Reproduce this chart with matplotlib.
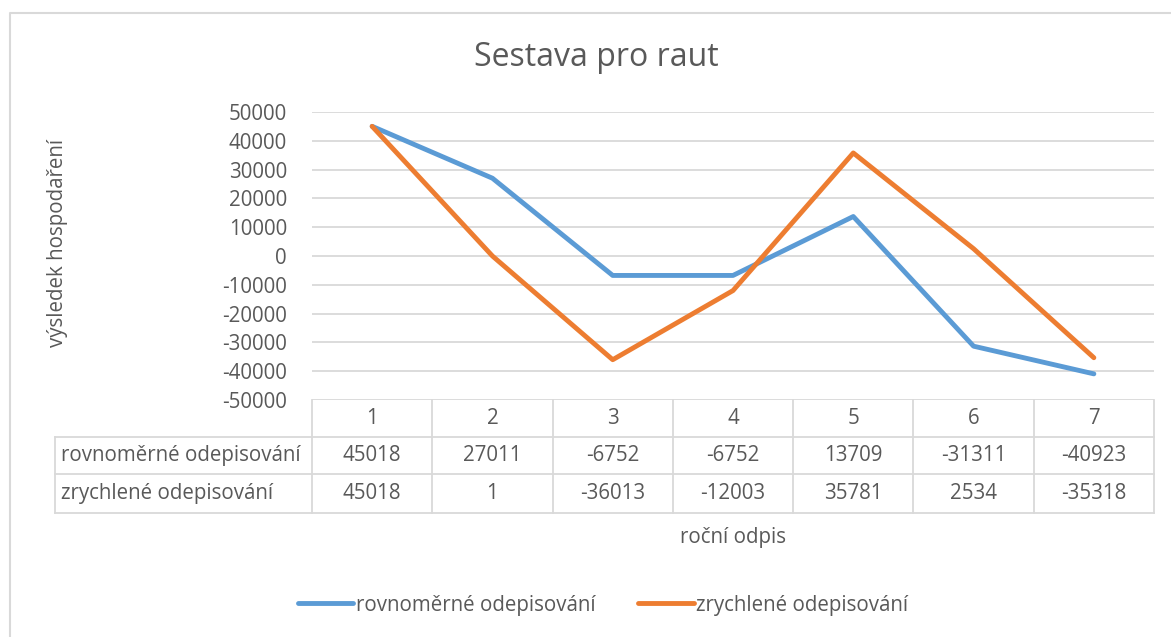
import matplotlib
matplotlib.use("Agg")
import matplotlib.pyplot as plt
import matplotlib.transforms as mtransforms
from matplotlib.lines import Line2D

# data
roky = ["1", "2", "3", "4", "5", "6", "7"]
rovnomerne = [45018, 27011, -6752, -6752, 13709, -31311, -40923]
zrychlene = [45018, 1, -36013, -12003, 35781, 2534, -35318]
nazvy = ["rovnoměrné odepisování", "zrychlené odepisování"]

modra = "#5B9BD5"
oranzova = "#ED7D31"
seda_text = "#595959"
seda_mrizka = "#D9D9D9"

plt.rcParams["font.family"] = ["Open Sans", "DejaVu Sans"]
plt.rcParams["axes.unicode_minus"] = False
fs = 14.8

W, H = 1171, 637
fig = plt.figure(figsize=(W / 100, H / 100), dpi=100)
fig.patch.set_facecolor("white")

# plot area in pixels: x 312..1154, y 112..400
ax = fig.add_axes([312 / W, 1 - 400 / H, (1154 - 312) / W, (400 - 112) / H])

x = list(range(len(roky)))
ax.plot(x, rovnomerne, color=modra, lw=3.5, solid_capstyle="round", label=nazvy[0], zorder=3)
ax.plot(x, zrychlene, color=oranzova, lw=3.5, solid_capstyle="round", label=nazvy[1], zorder=3)

ax.set_xlim(-0.5, len(roky) - 0.5)
ax.set_ylim(-50000, 50000)
ax.set_yticks(range(-50000, 50001, 10000))
ax.set_xticks([])
ax.grid(axis="y", color=seda_mrizka, lw=1.3)
ax.set_axisbelow(True)
for s in ax.spines.values():
    s.set_visible(False)
ax.tick_params(axis="y", length=0, pad=18, labelsize=fs, labelcolor=seda_text)

# data table below the axes
px_per_unit = (1154 - 312) / len(roky)
def fy(py):
    return -(py - 400) / 288.0

trans = mtransforms.blended_transform_factory(ax.transData, ax.transAxes)
x_left = -0.5 - (312 - 55) / px_per_unit
x_right = len(roky) - 0.5
rows_y = [400, 437, 474, 513]
lkw = dict(color=seda_mrizka, lw=1.3, transform=trans, clip_on=False)

for py in rows_y[1:]:
    ax.add_line(Line2D([x_left, x_right], [fy(py), fy(py)], **lkw))
ax.add_line(Line2D([x_left, x_left], [fy(437), fy(513)], **lkw))
for i in range(len(roky) + 1):
    ax.add_line(Line2D([i - 0.5, i - 0.5], [fy(400), fy(513)], **lkw))

tkw = dict(transform=trans, fontsize=fs, color=seda_text, va="center", clip_on=False)
for i, r in enumerate(roky):
    ax.text(i, fy((400 + 437) / 2), r, ha="center", **tkw)
    ax.text(i, fy((437 + 474) / 2), str(rovnomerne[i]), ha="center", **tkw)
    ax.text(i, fy((474 + 513) / 2), str(zrychlene[i]), ha="center", **tkw)
ax.text(x_left + 6 / px_per_unit, fy((437 + 474) / 2), nazvy[0], ha="left", **tkw)
ax.text(x_left + 6 / px_per_unit, fy((474 + 513) / 2), nazvy[1], ha="left", **tkw)

# titles
fig.text(596 / W, 1 - 58 / H, "Sestava pro raut", ha="center", va="center",
         fontsize=23, color=seda_text)
fig.text(58 / W, 1 - 243 / H, "výsledek hospodaření", ha="center", va="center",
         rotation=90, fontsize=fs, color=seda_text)
fig.text(733 / W, 1 - 537 / H, "roční odpis", ha="center", va="center",
         fontsize=fs, color=seda_text)

# legend
leg = fig.legend(loc="center", bbox_to_anchor=(603 / W, 1 - 605 / H), ncol=2,
                 frameon=False, fontsize=fs, handlelength=2.7, handletextpad=0.1,
                 columnspacing=2.1)
for t in leg.get_texts():
    t.set_color(seda_text)

# chart area border (top and left visible)
fig.add_artist(Line2D([10 / W, 10 / W, 1.0], [0.0, 1 - 13 / H, 1 - 13 / H],
                      transform=fig.transFigure, color=seda_mrizka, lw=1.5))

fig.savefig("out.png", dpi=100)
